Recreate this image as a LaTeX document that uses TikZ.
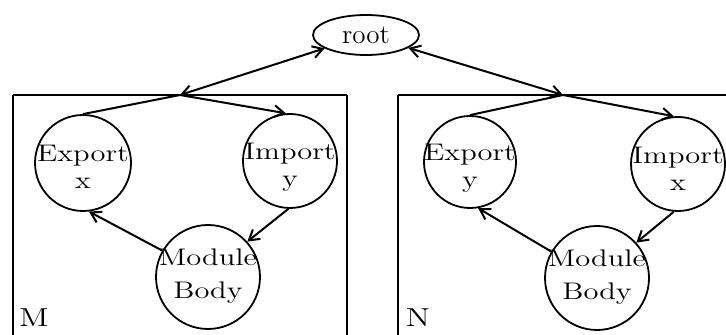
\documentclass[tikz,border=0pt]{standalone}
\usepackage{graphicx}
\usetikzlibrary{arrows.meta,shapes.geometric}
\newcommand\wid[1]{\scalebox{1.27}[1]{#1}}
\tikzset{
  ball/.style={circle,draw,line width=0.9pt,inner sep=0pt},
  txt/.style={align=center,inner sep=0pt,font=\fontsize{12}{13.5}\selectfont},
  wire/.style={line width=1pt},
  tip/.tip={Straight Barb[length=5pt,width=6pt]},
  arr/.style={wire,-tip},
  darr/.style={wire,tip-tip},
}
\begin{document}
\begin{tikzpicture}[x=0.5pt,y=-0.5pt]
\useasboundingbox (0,0) rectangle (726,335);
% boxes
\draw[line width=0.7pt] (13,335) -- (13,95);
\draw[line width=0.7pt] (347,95) -- (347,335);
\draw[wire] (13,95) -- (347,95);
\draw[line width=0.7pt] (398,335) -- (398,95);
\draw[wire] (398,95) -- (726,95);
% root
\node[ellipse,draw,line width=0.9pt,inner sep=0pt,minimum width=53pt,minimum height=20pt,
      font=\fontsize{13.5}{15}\selectfont] (root) at (366,35) {root};
\coordinate (J1) at (180,95);
\coordinate (J2) at (563,95);
% module M
\node[ball,minimum size=48pt] (MEx) at (83,163) {};
\node[ball,minimum size=47pt] (MIm) at (290,161) {};
\node[ball,minimum size=52pt] (MBo) at (208,277) {};
\node[txt] (MExt) at (83,167) {\wid{Export}\\\wid{x}};
\node[txt] (MImt) at (290,167) {\wid{Import}\\\wid{y}};
\node[txt] (MBot) at (208,276) {\wid{Module}\\[3pt]\wid{Body}};
\node[txt,font=\fontsize{13}{15}\selectfont] (Mlab) at (34,318) {\wid{M}};
% module N
\node[ball,minimum size=46pt] (NEx) at (470,162) {};
\node[ball,minimum size=47pt] (NIm) at (678,164) {};
\node[ball,minimum size=52pt] (NBo) at (597,278) {};
\node[txt] (NExt) at (470,168) {\wid{Export}\\\wid{y}};
\node[txt] (NImt) at (678,169) {\wid{Import}\\\wid{x}};
\node[txt] (NBot) at (597,277) {\wid{Module}\\[3pt]\wid{Body}};
\node[txt,font=\fontsize{13}{15}\selectfont] (Nlab) at (418,318) {\wid{N}};
% connectors
\draw[darr] (J1) -- (root);
\draw[darr] (J2) -- (root);
\draw[wire] (J1) -- (MEx.north);
\draw[arr] (J1) -- (MIm.95);
\draw[arr] (MBo.150) -- (MEx.-83);
\draw[arr] (MIm.-92) -- (MBo.42);
\draw[wire] (J2) -- (NEx.north);
\draw[arr] (J2) -- (NIm.95);
\draw[arr] (NBo.150) -- (NEx.-80);
\draw[arr] (NIm.-95) -- (NBo.42);
\end{tikzpicture}
\end{document}
